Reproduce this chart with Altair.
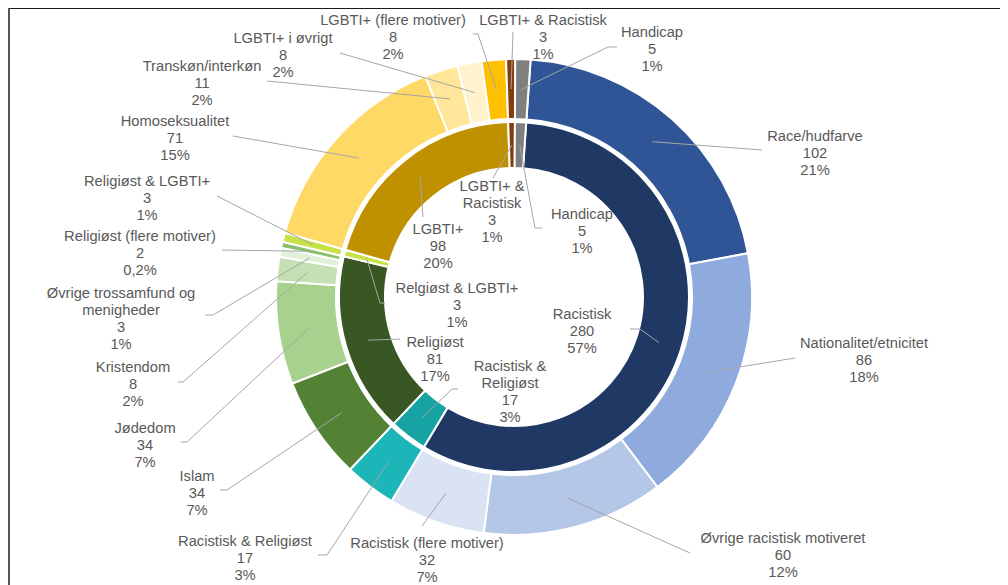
import math
import altair as alt
import pandas as pd

# ---------------- data ----------------
inner_names = ["Racistisk", "Racistisk & Religiøst", "Religiøst", "Relgiøst & LGBTI+",
               "LGBTI+", "LGBTI+ & Racistisk", "Handicap"]
inner_values = [280, 17, 81, 3, 98, 3, 5]
inner_pct = ["57%", "3%", "17%", "1%", "20%", "1%", "1%"]

outer_names = ["Race/hudfarve", "Nationalitet/etnicitet", "Øvrige racistisk motiveret",
               "Racistisk (flere motiver)", "Racistisk & Religiøst", "Islam", "Jødedom",
               "Kristendom", "Øvrige trossamfund og menigheder", "Religiøst (flere motiver)",
               "Religiøst & LGBTI+", "Homoseksualitet", "Transkøn/interkøn",
               "LGBTI+ i øvrigt", "LGBTI+ (flere motiver)", "LGBTI+ & Racistisk", "Handicap"]
outer_values = [102, 86, 60, 32, 17, 34, 34, 8, 3, 2, 3, 71, 11, 8, 8, 3, 5]
outer_pct = ["21%", "18%", "12%", "7%", "3%", "7%", "7%", "2%", "1%", "0,2%", "1%",
             "15%", "2%", "2%", "2%", "1%", "1%"]

# ---------------- styles ----------------
inner_colors = ["#203864", "#17A3A3", "#385723", "#C9E24A", "#BF9000", "#843C0C", "#7F7F7F"]
outer_colors = ["#2F5597", "#8FAADC", "#B4C7E7", "#DAE3F3", "#1CB5B8", "#548235", "#A9D18E",
                "#C5E0B4", "#E2F0D9", "#8CBF6E", "#C9E24A", "#FFD966", "#FFE699", "#FFF2CC",
                "#FFC000", "#843C0C", "#7F7F7F"]

wrap = {
    ("inner", "Racistisk & Religiøst"): "Racistisk &\nReligiøst",
    ("inner", "LGBTI+ & Racistisk"): "LGBTI+ &\nRacistisk",
    ("outer", "Øvrige trossamfund og menigheder"): "Øvrige trossamfund og\nmenigheder",
}

# ---------------- layout (page pixels) ----------------
M = 8                      # page margin
W, H = 992, 577
CX, CY = 514, 297          # donut centre on page
OFFSET = math.radians(4)   # angle of first slice
R_IN = (129, 175)
R_OUT = (178, 238)
R_LEAD_IN, R_LEAD_OUT = 152, 208

# label position (centre x, first line centre y) and leader points (elbow..., end)
outer_layout = [
    ((815, 135), [(762, 150)]),
    ((864, 342), [(795, 358)]),
    ((783, 537), [(690, 553)]),
    ((427, 542), [(422, 526)]),
    ((245, 540), [(327, 555), (318, 555)]),
    ((197, 475), [(227, 490), (220, 490)]),
    ((145, 427), [(187, 442), (181, 442)]),
    ((133, 366), [(183, 382), (178, 382)]),
    ((121, 292), [(213, 315), (205, 315)]),
    ((140, 235), [(222, 250)]),
    ((147, 180), [(217, 196)]),
    ((175, 120), [(233, 136)]),
    ((202, 65), [(267, 81)]),
    ((283, 37), [(340, 53)]),
    ((393, 19), [(478, 34), (473, 34)]),
    ((543, 19), [(513, 32)]),
    ((652, 31), [(608, 47), (617, 47)]),
]
inner_layout = [
    ((582, 313), [(640, 329), (630, 329)]),
    ((510, 365), [(452, 389), (458, 389)]),
    ((435, 341), [(400, 339)]),
    ((457, 287), [(380, 303), (385, 303)]),
    ((438, 228), [(423, 217)]),
    ((492, 185), [(493, 178)]),
    ((582, 213), [(535, 228), (542, 228)]),
]

total = sum(inner_values)


def ring_frames(ring, names, values, pcts, colors, layout, r_lead):
    arcs, texts, lines = [], [], []
    cum = 0
    for i, (n, v, p, c, (lab, pts)) in enumerate(zip(names, values, pcts, colors, layout)):
        arcs.append({"name": n, "value": v, "idx": i, "color": c})
        disp = wrap.get((ring, n), n)
        texts.append({"text": f"{disp}\n{v}\n{p}", "x": lab[0] - M, "y": lab[1] - M - 6})
        ang = OFFSET + (cum + v / 2) / total * 2 * math.pi
        sx = CX + r_lead * math.sin(ang)
        sy = CY - r_lead * math.cos(ang)
        path = [(sx, sy)] + pts
        for k, (px, py) in enumerate(path):
            lines.append({"id": f"{ring}{i}", "k": k, "x": px - M, "y": py - M})
        cum += v
    return pd.DataFrame(arcs), pd.DataFrame(texts), pd.DataFrame(lines)


in_arcs, in_txt, in_lines = ring_frames("inner", inner_names, inner_values, inner_pct,
                                        inner_colors, inner_layout, R_LEAD_IN)
out_arcs, out_txt, out_lines = ring_frames("outer", outer_names, outer_values, outer_pct,
                                           outer_colors, outer_layout, R_LEAD_OUT)

theta_scale = alt.Scale(range=[OFFSET, OFFSET + 2 * math.pi])


def ring(df, r):
    return alt.Chart(df).mark_arc(innerRadius=r[0], outerRadius=r[1], stroke="white",
                                  strokeWidth=2).encode(
        theta=alt.Theta("value:Q", stack=True, scale=theta_scale),
        order=alt.Order("idx:Q", sort="ascending"),
        color=alt.Color("color:N", scale=None),
        x=alt.value(CX - M),
        y=alt.value(CY - M),
        tooltip=["name:N", "value:Q"],
    )


lines_df = pd.concat([in_lines, out_lines], ignore_index=True)
txt_df = pd.concat([in_txt, out_txt], ignore_index=True)

leaders = alt.Chart(lines_df).mark_line(color="#A6A6A6", strokeWidth=1).encode(
    x=alt.X("x:Q", scale=None, axis=None),
    y=alt.Y("y:Q", scale=None, axis=None),
    detail="id:N",
    order="k:Q",
)

labels = alt.Chart(txt_df).mark_text(
    font="Liberation Sans", fontSize=14.7, lineHeight=17, color="#595959",
    align="center", baseline="top", lineBreak="\n",
).encode(
    x=alt.X("x:Q", scale=None, axis=None),
    y=alt.Y("y:Q", scale=None, axis=None),
    text="text:N",
)

frame_top = alt.Chart(pd.DataFrame({"a": [0]})).mark_rule(color="#1a1a1a", strokeWidth=2).encode(
    x=alt.value(0), x2=alt.value(W), y=alt.value(0)
)
frame_left = alt.Chart(pd.DataFrame({"a": [0]})).mark_rule(color="#555555", strokeWidth=2).encode(
    x=alt.value(1), y=alt.value(0), y2=alt.value(H)
)

chart = alt.layer(
    ring(out_arcs, R_OUT), ring(in_arcs, R_IN), leaders, labels, frame_top, frame_left
).properties(
    width=W, height=H, padding=0, autosize=alt.AutoSizeParams(type="none")
).configure_view(stroke=None)

chart.save("out.html", embed_options={"renderer": "svg", "actions": False})
